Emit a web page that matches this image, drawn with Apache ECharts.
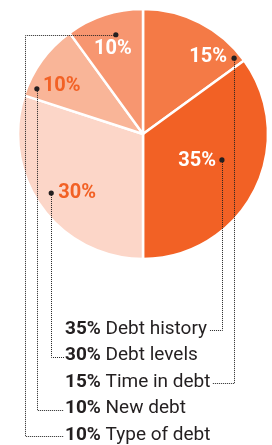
<!DOCTYPE html>
<html>
<head>
<meta charset="utf-8">
<script src="https://cdn.jsdelivr.net/npm/echarts@6/dist/echarts.min.js"></script>
<style>
html,body{margin:0;padding:0;background:#fff;}
#chart{width:272px;height:445px;}
</style>
</head>
<body>
<div id="chart"></div>
<script>
// ---- data ----
const categories = ['Time in debt', 'Debt history', 'Debt levels', 'New debt', 'Type of debt'];
const shares = [15, 35, 30, 10, 10];
const legendOrder = ['Debt history', 'Debt levels', 'Time in debt', 'New debt', 'Type of debt'];

// ---- styling / layout ----
const sliceColors = ['#F47A46', '#F26125', '#FCD6C8', '#F9B598', '#F79670'];
const labelColors = ['#ffffff', '#ffffff', '#F26125', '#F26125', '#ffffff'];
const CX = 143, CY = 134, R = 125, RV = 124;
// anchor of the dot in each slice: fraction along the slice angle, fraction of radius
const anchors = [
  { f: 0.93, rf: 0.956, lx: -7, ly: -1, align: 'right' },
  { f: 0.43, rf: 0.67, lx: -6, ly: 1, align: 'right' },
  { f: 0.53, rf: 0.88, lx: 7, ly: 0, align: 'left' },
  { f: 0.14, rf: 0.93, lx: 6, ly: -3, align: 'left' },
  { f: 0.575, rf: 0.83, lx: -3, ly: 14, align: 'center' }
];
const legendX = 65, legendY0 = 329, legendStep = 26.5;
const typeElbowX = 25.5;
const ink = '#231F20';
const lineColor = '#222222';

const chart = echarts.init(document.getElementById('chart'), null, { renderer: 'canvas' });

const total = shares.reduce((a, b) => a + b, 0);
const ctx = document.createElement('canvas').getContext('2d');
function textW(font, t) { ctx.font = font; return ctx.measureText(t).width; }

const graphics = [];
let cum = 0;
const dots = [];
shares.forEach((v, i) => {
  const a = anchors[i];
  const ang = -Math.PI / 2 + 2 * Math.PI * (cum + a.f * v) / total;
  cum += v;
  const r = a.rf * RV;
  dots.push([CX + r * Math.cos(ang), CY + r * Math.sin(ang)]);
});

const lineStyle = { stroke: lineColor, lineWidth: 1, lineDash: [1, 1], fill: null };

shares.forEach((v, i) => {
  const a = anchors[i];
  const d = dots[i];
  graphics.push({
    type: 'text', silent: true, z: 10,
    style: {
      x: d[0] + a.lx, y: d[1] + a.ly, text: v + '%',
      font: 'bold 20px Roboto', fill: labelColors[i],
      align: a.align, verticalAlign: 'middle'
    }
  });
  const row = legendOrder.indexOf(categories[i]);
  const ly = legendY0 + row * legendStep;
  graphics.push({
    type: 'text', silent: true, z: 10,
    style: {
      x: legendX, y: ly, text: '{b|' + v + '%} ' + categories[i],
      font: '19px Roboto', fill: ink, verticalAlign: 'middle',
      rich: { b: { font: 'bold 19px Roboto', fill: ink } }
    }
  });
  const tw = textW('bold 19px Roboto', v + '%') + textW('19px Roboto', ' ' + categories[i]);
  const dx = Math.round(d[0]) + 0.5;
  const lyL = Math.round(ly + 1) + 0.5;
  let pts;
  if (a.align === 'right') {
    pts = [[dx, d[1]], [dx, lyL], [legendX + tw + 2, lyL]];
  } else if (i === 4) {
    pts = [[d[0], Math.round(d[1]) + 0.5], [typeElbowX, Math.round(d[1]) + 0.5], [typeElbowX, lyL], [legendX - 1, lyL]];
  } else {
    pts = [[dx, d[1]], [dx, lyL], [legendX - 1, lyL]];
  }
  graphics.push({ type: 'polyline', silent: true, z: 8, shape: { points: pts }, style: lineStyle });
  graphics.push({
    type: 'circle', silent: true, z: 9,
    shape: { cx: d[0], cy: d[1], r: 2.6 }, style: { fill: ink }
  });
});

chart.setOption({
  animation: false,
  backgroundColor: '#ffffff',
  series: [{
    type: 'pie',
    center: [CX, CY],
    radius: [0, R],
    startAngle: 90,
    clockwise: true,
    silent: true,
    label: { show: false },
    labelLine: { show: false },
    emphasis: { disabled: true },
    itemStyle: { borderColor: '#ffffff', borderWidth: 2.5 },
    data: categories.map((c, i) => ({ name: c, value: shares[i], itemStyle: { color: sliceColors[i] } }))
  }],
  graphic: graphics
});
</script>
</body>
</html>
